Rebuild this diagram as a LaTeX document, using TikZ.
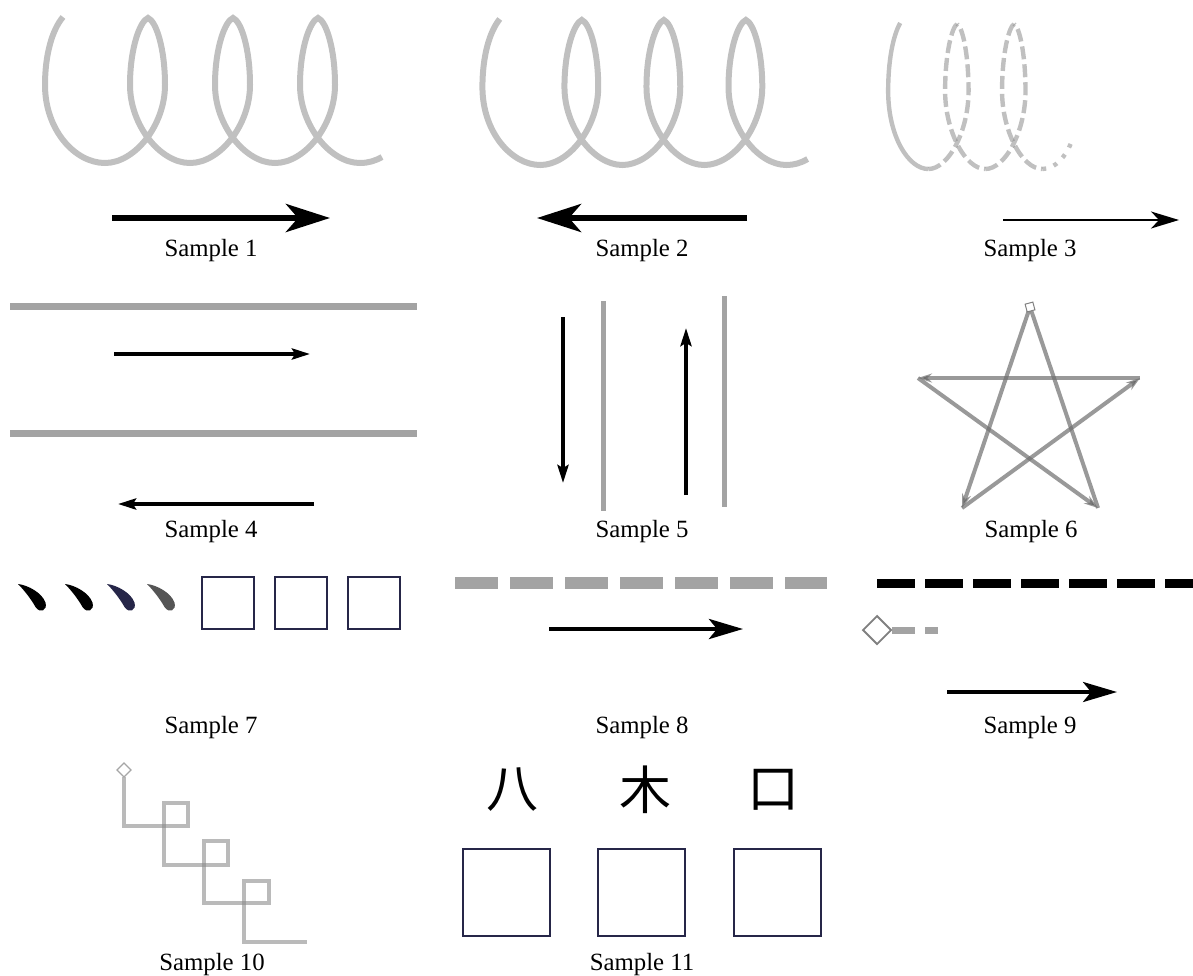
\documentclass[tikz,border=0pt]{standalone}
\usepackage{fontspec}
\setmainfont{Liberation Serif}
\newfontfamily\cjkfont{Noto Sans CJK SC}
\usetikzlibrary{arrows.meta}
\definecolor{springgray}{RGB}{192,192,192}
\definecolor{railgray}{RGB}{163,163,163}
\definecolor{inknavy}{RGB}{38,38,72}
\definecolor{inkgray}{RGB}{85,85,85}
\definecolor{stargray}{RGB}{110,110,110}
\definecolor{fadegray}{RGB}{140,140,140}
% half turns of the spring, one period is 85 wide
\newcommand{\riseturn}[1]{.. controls ({#1+135},163) and ({#1+165},125) .. ({#1+165},85)
  .. controls ({#1+165},48) and ({#1+156},21) .. ({#1+148},18)}
\newcommand{\fallturn}[1]{.. controls ({#1+140},21) and ({#1+130},48) .. ({#1+130},85)
  .. controls ({#1+130},125) and ({#1+160},163) .. ({#1+190},163)}
\newcommand{\springstart}{(63,17) .. controls (52,30) and (45,55) .. (45,85)
  .. controls (45,130) and (75,163) .. (105,163)}
\newcommand{\springpath}{\springstart \riseturn{0} \fallturn{0} \riseturn{85} \fallturn{85}
  \riseturn{170} \fallturn{170} .. controls (368,163) and (375,161) .. (382,157)}
\begin{document}
\begin{tikzpicture}[x=0.5pt, y=-0.5pt,
  sampletext/.style={font=\fontsize{12.4}{14}\selectfont, anchor=base, inner sep=0pt},
  spring/.style={springgray, line width=3pt},
  faded/.style={fadegray, draw opacity=0.55, line width=2.2pt},
  bigarrow/.style={line width=3pt, -{Stealth[length=22pt, width=14pt, inset=6pt]}},
  thinarrow/.style={line width=0.9pt, -{Stealth[length=14pt, width=8.5pt, inset=4pt]}},
  midarrow/.style={line width=2pt, -{Stealth[length=9pt, width=5.5pt, inset=1.5pt]}},
  longarrow/.style={line width=2.2pt, -{Stealth[length=17pt, width=10pt, inset=4pt]}},
  rail/.style={railgray, line width=3.5pt},
  pole/.style={railgray, line width=2.5pt},
  starline/.style={stargray, draw opacity=0.7, line width=2pt, -{Stealth[length=7pt, width=4.5pt]}},
  frame/.style={inknavy, line width=1.3pt},
  stair/.style={fadegray, draw opacity=0.6, line width=2pt},
  glyph/.style={font=\cjkfont\fontsize{26}{26}\selectfont, inner sep=0pt}]
\useasboundingbox (0,0) rectangle (1193,975);

% row 1: springs
\draw[spring] \springpath;
\begin{scope}[shift={(439,2)}, xscale=0.965]
  \draw[spring] \springpath;
\end{scope}
\begin{scope}[shift={(858,6)}, xscale=0.67]
  \draw[faded] \springstart;
  \foreach \d in {0,85} {
    \draw[faded, dash pattern=on 6.5pt off 2.5pt] ({\d+105},163) \riseturn{\d};
    \draw[faded, dash pattern=on 6.5pt off 2.5pt] ({\d+148},18) \fallturn{\d};
  }
  \draw[faded, dash pattern=on 2pt off 4pt] (275,163) .. controls (295,163) and (310,150) .. (318,137);
\end{scope}

\draw[bigarrow] (112,218) -- (330,218);
\draw[bigarrow] (747,218) -- (537,218);
\draw[thinarrow] (1003,220) -- (1179,220);
\node[sampletext] (s1) at (211,256) {Sample 1};
\node[sampletext] (s2) at (642,256) {Sample 2};
\node[sampletext] (s3) at (1030,256) {Sample 3};

% row 2
\draw[rail] (10,306) -- (417,306);
\draw[rail] (10,433) -- (417,433);
\draw[midarrow] (114,354) -- (310,354);
\draw[midarrow] (314,504) -- (118,504);

\draw[pole] (603,301) -- (603,511);
\draw[pole] (724,296) -- (724,507);
\draw[midarrow] (563,317) -- (563,483);
\draw[midarrow] (686,495) -- (686,328);

\coordinate (top) at (1030,307);
\coordinate (lft) at (918,378);
\coordinate (rgt) at (1140,378);
\coordinate (bl) at (962,508);
\coordinate (br) at (1098,508);
\foreach \a/\b in {top/bl, bl/rgt, rgt/lft, lft/br}
  \draw[starline] (\a) -- (\b);
\draw[starline, -] (br) -- (top);
\node[draw=gray, fill=white, line width=0.5pt, minimum size=4pt, inner sep=0pt, rotate=15] (mark) at (top) {};

\node[sampletext] (s4) at (211,537) {Sample 4};
\node[sampletext] (s5) at (642,537) {Sample 5};
\node[sampletext] (s6) at (1031,537) {Sample 6};

% row 3
\foreach \x/\c in {18/black, 65/black, 107/inknavy, 147/inkgray}
  \fill[\c, shift={(\x,584)}, scale=1.1] (0,0) .. controls (9,1) and (22,8) .. (25,17)
    .. controls (27,24) and (20,27) .. (16,21) .. controls (12,14) and (6,6) .. (0,0);
\foreach \x in {202,275,348}
  \draw[frame] (\x,577) rectangle +(52,52);

\draw[rail, line width=6pt, dash pattern=on 21.5pt off 6pt] (455,583) -- (827,583);
\draw[longarrow] (549,629) -- (743,629);

\draw[line width=4.5pt, dash pattern=on 19pt off 5pt] (877,583) -- (1193,583);
\draw[rail, dash pattern=on 11.5pt off 5pt] (892,630) -- (938,630);
\draw[gray, fill=white, line width=0.9pt] (877,616) -- (891,630) -- (877,644) -- (863,630) -- cycle;
\draw[longarrow, line width=1.8pt] (947,692) -- (1117,692);

\node[sampletext] (s7) at (211,733) {Sample 7};
\node[sampletext] (s8) at (642,733) {Sample 8};
\node[sampletext] (s9) at (1030,733) {Sample 9};

% row 4
\draw[stair] (124,777) -- (124,826) -- (188,826) -- (188,803) -- (164,803) -- (164,814);
\draw[stair] (164,814) -- (164,865) -- (228,865) -- (228,841) -- (204,841) -- (204,852);
\draw[stair] (204,852) -- (204,903) -- (269,903) -- (269,881) -- (244,881) -- (244,892);
\draw[stair] (244,892) -- (244,942) -- (307,942);
\draw[gray!70, fill=white, line width=0.6pt] (124,763) -- (131,770) -- (124,777) -- (117,770) -- cycle;

\node[glyph] (ba) at (512,790) {八};
\node[glyph] (mu) at (645,790) {木};
\node[glyph] (kou) at (773,790) {口};
\foreach \x in {463,598,734}
  \draw[frame, line width=1pt] (\x,849) rectangle +(87,87);

\node[sampletext] (s10) at (212,970) {Sample 10};
\node[sampletext] (s11) at (642,970) {Sample 11};
\end{tikzpicture}
\end{document}
